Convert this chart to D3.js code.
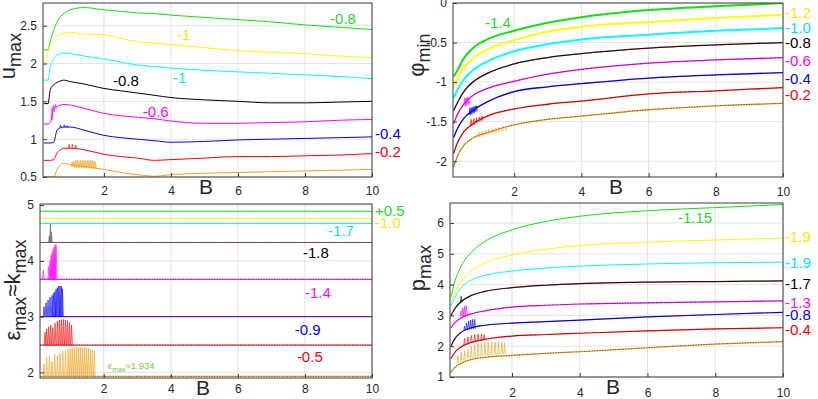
<!DOCTYPE html>
<html>
<head>
<meta charset="utf-8">
<script src="https://cdn.jsdelivr.net/npm/d3@7"></script>
<style>
  body { margin: 0; background: #fff; }
  svg { font-family: "Liberation Sans", Arial, sans-serif; }
</style>
</head>
<body>
<svg id="fig" width="818" height="399"></svg>
<script>
// ---------- (a) u_max vs B ----------
const uB       = [0.2, 0.33, 0.4, 0.5, 0.6, 0.7, 0.8, 1.0, 1.4, 2, 2.5, 3, 3.5, 4, 5, 6, 7, 8, 9, 10];
const uGreen   = [2.18, 2.18, 2.3, 2.44, 2.55, 2.62, 2.66, 2.71, 2.74, 2.71, 2.69, 2.67, 2.66, 2.64, 2.61, 2.58, 2.55, 2.51, 2.48, 2.45];
const uYellow  = [1.98, 2.15, 2.24, 2.32, 2.36, 2.38, 2.4, 2.41, 2.39, 2.38, 2.33, 2.29, 2.27, 2.25, 2.21, 2.17, 2.15, 2.13, 2.1, 2.08];
const uCyan    = [1.78, 1.78, 1.96, 2.06, 2.11, 2.13, 2.14, 2.13, 2.1, 2.06, 2.02, 1.98, 1.96, 1.94, 1.91, 1.89, 1.87, 1.85, 1.83, 1.8];
const uBlack   = [1.47, 1.47, 1.66, 1.72, 1.75, 1.77, 1.78, 1.76, 1.73, 1.67, 1.64, 1.61, 1.58, 1.55, 1.52, 1.5, 1.48, 1.48, 1.49, 1.5];
const uMagenta = [1.2, 1.2, 1.22, 1.4, 1.43, 1.45, 1.46, 1.45, 1.41, 1.34, 1.31, 1.29, 1.27, 1.24, 1.21, 1.21, 1.22, 1.23, 1.25, 1.26];
const uBlue    = [0.95, 0.95, 0.95, 0.96, 1.12, 1.15, 1.16, 1.16, 1.12, 1.05, 1.02, 1.0, 0.98, 0.96, 0.97, 0.99, 1.0, 1.01, 1.02, 1.03];
const uRed     = [0.72, 0.72, 0.72, 0.73, 0.82, 0.86, 0.88, 0.88, 0.86, 0.8, 0.77, 0.75, 0.72, 0.73, 0.75, 0.77, 0.77, 0.78, 0.79, 0.81];
const uOrange  = [0.5, 0.5, 0.5, 0.5, 0.6, 0.66, 0.68, 0.66, 0.64, 0.6, 0.56, 0.53, 0.51, 0.53, 0.55, 0.56, 0.57, 0.58, 0.59, 0.6];
// oscillating bits: [B, low, high]
const uMagentaOsc = [[0.45, 1.25, 1.42], [0.5, 1.36, 1.45], [0.55, 1.4, 1.46]];
const uBlueOsc    = [[0.7, 1.15, 1.19], [0.82, 1.16, 1.19], [0.9, 1.16, 1.18]];
const uRedOsc     = [[0.96, 0.88, 0.93], [1.06, 0.88, 0.93], [1.16, 0.87, 0.92]];
const uOrangeOsc  = [[1.05, 0.64, 0.7], [1.1, 0.63, 0.71], [1.15, 0.62, 0.72], [1.2, 0.62, 0.72], [1.25, 0.62, 0.72],
                     [1.3, 0.62, 0.72], [1.35, 0.62, 0.72], [1.4, 0.62, 0.72], [1.45, 0.62, 0.72], [1.5, 0.62, 0.72],
                     [1.55, 0.62, 0.72], [1.6, 0.61, 0.72], [1.65, 0.61, 0.72], [1.7, 0.61, 0.71], [1.75, 0.61, 0.7]];
const uLabels = [
  {t: "-0.8", c: "green", b: 8.75, v: 2.6}, {t: "-1", c: "yellow", b: 4.18, v: 2.38},
  {t: "-0.8", c: "black", b: 2.27, v: 1.78}, {t: "-1", c: "cyan", b: 4.06, v: 1.81},
  {t: "-0.6", c: "magenta", b: 3.16, v: 1.37}, {t: "-0.4", c: "blue", b: 10.09, v: 1.08},
  {t: "-0.2", c: "red", b: 10.09, v: 0.83}
];

// ---------- (b) phi_min vs B ----------
const phiB       = [0.2, 0.3, 0.5, 0.8, 1.2, 2, 3, 4, 6, 8, 10];
const phiGreen   = [-0.93, -0.86, -0.7, -0.56, -0.46, -0.35, -0.25, -0.18, -0.09, -0.04, 0];
const phiYellow  = [-1.05, -0.97, -0.82, -0.69, -0.59, -0.47, -0.36, -0.3, -0.24, -0.19, -0.15];
const phiCyan    = [-1.2, -1.11, -0.97, -0.84, -0.74, -0.61, -0.52, -0.46, -0.4, -0.35, -0.32];
const phiBlack   = [-1.36, -1.27, -1.12, -0.99, -0.89, -0.77, -0.69, -0.64, -0.57, -0.53, -0.5];
const phiMagenta = [-1.52, -1.42, -1.28, -1.16, -1.08, -0.99, -0.9, -0.84, -0.76, -0.72, -0.69];
const phiBlue    = [-1.7, -1.6, -1.46, -1.35, -1.25, -1.12, -1.06, -1.02, -0.95, -0.91, -0.88];
const phiRed     = [-1.9, -1.78, -1.63, -1.52, -1.43, -1.34, -1.28, -1.24, -1.15, -1.11, -1.07];
const phiOrange  = [-2.07, -1.95, -1.8, -1.7, -1.64, -1.54, -1.47, -1.43, -1.35, -1.3, -1.27];
const phiMagentaOsc = [[0.53, -1.3, -1.2], [0.57, -1.3, -1.2], [0.61, -1.29, -1.19], [0.65, -1.28, -1.2]];
const phiBlueOsc    = [[0.68, -1.42, -1.33], [0.72, -1.41, -1.32], [0.76, -1.4, -1.32], [0.8, -1.39, -1.31], [0.84, -1.38, -1.3], [0.88, -1.37, -1.3]];
const phiRedOsc     = [[0.72, -1.56, -1.47], [0.8, -1.54, -1.46], [0.88, -1.52, -1.45], [0.96, -1.5, -1.44], [1.04, -1.49, -1.43]];
const phiOrangeOsc  = [[0.95, -1.7, -1.63], [1.05, -1.69, -1.62], [1.15, -1.67, -1.61], [1.25, -1.66, -1.6], [1.35, -1.65, -1.59],
                       [1.45, -1.64, -1.58], [1.55, -1.63, -1.57], [1.65, -1.62, -1.56], [1.75, -1.61, -1.56]];
const phiLabels = [
  {t: "-1.4", c: "green", b: 1.13, v: -0.25}, {t: "-1.2", c: "yellow", b: 10.06, v: -0.12},
  {t: "-1.0", c: "cyan", b: 10.06, v: -0.31}, {t: "-0.8", c: "black", b: 10.06, v: -0.5},
  {t: "-0.6", c: "magenta", b: 10.06, v: -0.73}, {t: "-0.4", c: "blue", b: 10.06, v: -0.95},
  {t: "-0.2", c: "red", b: 10.06, v: -1.16}
];

// ---------- (c) eps_max ~ k_max vs B ----------
const eB = [0.1, 10];
const eGreen = 4.89, eYellow = 4.76, eCyan = 4.67, eBlack = 4.33, eMagenta = 3.67, eBlue = 3.0, eRed = 2.49, eOrange = 1.93;
const eBlackSp   = [[0.38, 4.33, 4.45], [0.41, 4.33, 4.66], [0.44, 4.33, 4.52]];
const eMagentaSp = [[0.2, 3.67, 3.83], [0.36, 3.67, 3.9], [0.4, 3.67, 4.0], [0.43, 3.67, 4.1], [0.46, 3.67, 4.15],
                    [0.49, 3.67, 4.2], [0.52, 3.67, 4.25], [0.55, 3.67, 4.29], [0.58, 3.67, 4.29]];
const eBlueSp    = [[0.22, 3.0, 3.18], [0.28, 3.0, 3.25], [0.34, 3.0, 3.3], [0.4, 3.0, 3.35], [0.46, 3.0, 3.38],
                    [0.5, 3.0, 3.42], [0.54, 3.0, 3.45], [0.58, 3.0, 3.5], [0.62, 3.0, 3.52], [0.66, 3.0, 3.55],
                    [0.7, 3.0, 3.55], [0.74, 3.0, 3.54], [0.77, 3.0, 3.5]];
const eRedSp     = [[0.25, 2.49, 2.72], [0.3, 2.49, 2.78], [0.36, 2.49, 2.82], [0.42, 2.49, 2.85], [0.48, 2.49, 2.8],
                    [0.55, 2.49, 2.88], [0.62, 2.49, 2.92], [0.68, 2.49, 2.94], [0.74, 2.49, 2.95], [0.8, 2.49, 2.95],
                    [0.86, 2.49, 2.94], [0.92, 2.49, 2.93], [0.98, 2.49, 2.9], [1.04, 2.49, 2.85]];
const eOrangeSp  = [[0.22, 1.93, 2.15], [0.3, 1.93, 2.28], [0.38, 1.93, 2.3], [0.46, 1.93, 2.2], [0.54, 1.93, 2.32],
                    [0.62, 1.93, 2.3], [0.7, 1.93, 2.35], [0.78, 1.93, 2.38], [0.86, 1.93, 2.4], [0.94, 1.93, 2.42],
                    [1.0, 1.93, 2.43], [1.06, 1.93, 2.44], [1.12, 1.93, 2.44], [1.18, 1.93, 2.45], [1.24, 1.93, 2.45],
                    [1.3, 1.93, 2.45], [1.36, 1.93, 2.45], [1.42, 1.93, 2.44], [1.48, 1.93, 2.45], [1.54, 1.93, 2.44],
                    [1.6, 1.93, 2.42], [1.66, 1.93, 2.4], [1.72, 1.93, 2.38]];
const eLabels = [
  {t: "+0.5", c: "green", b: 10.09, v: 4.9}, {t: "-1.0", c: "yellow", b: 10.09, v: 4.69},
  {t: "-1.7", c: "cyan", b: 8.69, v: 4.55}, {t: "-1.8", c: "black", b: 7.94, v: 4.14},
  {t: "-1.4", c: "magenta", b: 8.0, v: 3.44}, {t: "-0.9", c: "blue", b: 7.7, v: 2.76},
  {t: "-0.5", c: "red", b: 7.76, v: 2.28}
];

// ---------- (d) p_max vs B ----------
const pB       = [0.2, 0.3, 0.5, 0.8, 1.2, 2, 3, 4, 6, 8, 10];
const pGreen   = [3.6, 4.05, 4.6, 5.05, 5.4, 5.78, 6.05, 6.22, 6.4, 6.5, 6.6];
const pYellow  = [3.4, 3.7, 4.1, 4.45, 4.7, 4.96, 5.15, 5.27, 5.38, 5.45, 5.51];
const pCyan    = [3.3, 3.55, 3.9, 4.15, 4.3, 4.44, 4.54, 4.6, 4.67, 4.71, 4.73];
const pBlack   = [3.0, 3.2, 3.45, 3.65, 3.78, 3.9, 3.98, 4.03, 4.08, 4.1, 4.12];
const pMagenta = [2.6, 2.75, 2.92, 3.05, 3.15, 3.27, 3.33, 3.37, 3.41, 3.44, 3.47];
const pBlue    = [2.0, 2.22, 2.45, 2.6, 2.68, 2.75, 2.8, 2.85, 2.95, 3.03, 3.1];
const pRed     = [1.6, 1.78, 1.98, 2.12, 2.22, 2.33, 2.38, 2.42, 2.5, 2.56, 2.6];
const pOrange  = [1.15, 1.3, 1.45, 1.57, 1.64, 1.7, 1.77, 1.82, 1.95, 2.07, 2.15];
const pBlackSp   = [[0.5, 3.42, 3.62]];
const pMagentaSp = [[0.5, 2.97, 3.15], [0.55, 2.98, 3.25], [0.6, 3.0, 3.3], [0.65, 3.0, 3.32]];
const pBlueSp    = [[0.6, 2.5, 2.65], [0.66, 2.52, 2.75], [0.72, 2.53, 2.82], [0.78, 2.55, 2.85], [0.84, 2.56, 2.87], [0.9, 2.57, 2.87]];
const pRedSp     = [[0.6, 2.05, 2.25], [0.7, 2.1, 2.3], [0.8, 2.12, 2.35], [0.9, 2.15, 2.38], [1.0, 2.17, 2.4], [1.1, 2.18, 2.4], [1.18, 2.2, 2.38]];
const pOrangeSp  = [[0.4, 1.45, 1.7], [0.5, 1.5, 1.8], [0.6, 1.55, 1.85], [0.7, 1.6, 1.9], [0.8, 1.62, 2.0], [0.9, 1.65, 2.05],
                    [1.0, 1.67, 2.08], [1.1, 1.68, 2.1], [1.2, 1.7, 2.12], [1.3, 1.7, 2.13], [1.4, 1.71, 2.14],
                    [1.5, 1.72, 2.14], [1.6, 1.73, 2.15], [1.7, 1.74, 2.13], [1.78, 1.74, 2.1]];
const pLabels = [
  {t: "-1.15", c: "green", b: 6.9, v: 6.16}, {t: "-1.9", c: "yellow", b: 10.06, v: 5.55},
  {t: "-1.9", c: "cyan", b: 10.06, v: 4.73}, {t: "-1.7", c: "black", b: 10.06, v: 4.02},
  {t: "-1.3", c: "magenta", b: 10.06, v: 3.42}, {t: "-0.8", c: "blue", b: 10.06, v: 3.04},
  {t: "-0.4", c: "red", b: 10.06, v: 2.53}
];

const xTicks = [2, 4, 6, 8, 10];

// line colours and label colours
const LINE = {green: "#11e011", yellow: "#ffff00", cyan: "#00ffff", black: "#000000",
              magenta: "#ff00ff", blue: "#0000ff", red: "#ff0000", orange: "#eaa31c"};
const TEXT = {green: "#1fd81f", yellow: "#f7e600", cyan: "#00e6f2", black: "#000000",
              magenta: "#ff00ff", blue: "#0000ff", red: "#ff0000"};
const DARK = "#1a1a1a";
const AXIS = "#3a3a3a";
const GRID = "#e3e3e3";
const FONT = "'Liberation Sans', Arial, sans-serif";

const svg = d3.select("#fig");

function yLabel(cx, cy, parts) {
  const t = svg.append("text")
    .attr("transform", `translate(${cx},${cy}) rotate(-90)`)
    .attr("text-anchor", "middle")
    .attr("fill", "#262626")
    .style("font-size", "22px");
  let prevSub = false;
  parts.forEach(p => {
    const s = !!p.sub;
    t.append("tspan").text(p.t)
      .attr("dy", s && !prevSub ? 6 : (!s && prevSub ? -6 : 0))
      .style("font-size", s ? "18px" : null);
    prevSub = s;
  });
}

function drawPanel(p) {
  const [L, T, R, Bt] = p.box;
  const x = d3.scaleLinear().domain(p.xDomain).range([L, R]);
  const y = d3.scaleLinear().domain(p.yDomain).range([Bt, T]);
  const g = svg.append("g");

  svg.append("clipPath").attr("id", "clip-" + p.id)
    .append("rect").attr("x", L).attr("y", T).attr("width", R - L).attr("height", Bt - T);

  // grid
  g.append("g").selectAll("line").data(xTicks).join("line")
    .attr("x1", d => x(d)).attr("x2", d => x(d)).attr("y1", T).attr("y2", Bt)
    .attr("stroke", GRID);
  g.append("g").selectAll("line").data(p.yTicks).join("line")
    .attr("x1", L).attr("x2", R).attr("y1", d => y(d)).attr("y2", d => y(d))
    .attr("stroke", GRID);

  const plot = g.append("g").attr("clip-path", `url(#clip-${p.id})`);
  const ln = d3.line().x(d => x(d[0])).y(d => y(d[1])).curve(d3.curveMonotoneX);
  const sp = d3.line().x(d => x(d[0])).y(d => y(d[1]));
  const H = 0.025;

  p.series.forEach(s => {
    const pts = s.xs.map((b, i) => [b, s.v[i]]);
    plot.append("path").attr("d", ln(pts))
      .attr("fill", "none").attr("stroke", s.c).attr("stroke-width", s.w || 1);
    if (s.dot) {
      plot.append("path").attr("d", ln(pts))
        .attr("fill", "none").attr("stroke", s.dot).attr("stroke-width", 0.9)
        .attr("stroke-dasharray", "1 1.6").attr("opacity", 0.75);
    }
    if (s.osc) {
      plot.append("g").selectAll("path").data(s.osc).join("path")
        .attr("d", d => sp([[d[0] - H, d[1]], [d[0], d[2]], [d[0] + H, d[1]]]))
        .attr("fill", p.fillOsc ? s.c : "none").attr("fill-opacity", 0.15)
        .attr("stroke", s.c).attr("stroke-width", 0.75).attr("opacity", 0.85);
    }
  });

  // axes (ticks pointing inwards, MATLAB style)
  const ax = g.append("g").attr("transform", `translate(0,${Bt})`)
    .call(d3.axisBottom(x).tickValues(xTicks).tickSize(-4).tickPadding(p.xPad).tickFormat(d => String(d)));
  const ay = g.append("g").attr("transform", `translate(${L},0)`)
    .call(d3.axisLeft(y).tickValues(p.yTicks).tickSize(-4).tickPadding(6).tickFormat(d => String(d)));
  [ax, ay].forEach(a => {
    a.select(".domain").remove();
    a.attr("font-size", 12).attr("font-family", FONT);
    a.selectAll("line").attr("stroke", AXIS);
    a.selectAll("text").attr("fill", "#262626");
  });

  g.append("rect").attr("x", L).attr("y", T).attr("width", R - L).attr("height", Bt - T)
    .attr("fill", "none").attr("stroke", AXIS).attr("stroke-width", 1);

  // annotations
  g.append("g").selectAll("text").data(p.labels).join("text")
    .attr("x", d => x(d.b)).attr("y", d => y(d.v)).attr("dy", "0.36em")
    .attr("fill", d => TEXT[d.c]).style("font-size", "15px").text(d => d.t);

  // B label
  g.append("text").attr("x", L + 163).attr("y", Bt + 17).attr("text-anchor", "middle")
    .attr("fill", "#262626").style("font-size", "21px").text("B");

  return {x, y, g};
}

const ser = (xs, v, c, extra) => Object.assign({xs, v, c: LINE[c]}, extra || {});

// (a)
drawPanel({
  id: "a", box: [43, 3, 372, 177], xDomain: [0.18, 10], yDomain: [0.5, 2.8],
  yTicks: [0.5, 1, 1.5, 2, 2.5], xPad: 9, labels: uLabels,
  series: [
    ser(uB, uGreen, "green"), ser(uB, uYellow, "yellow"), ser(uB, uCyan, "cyan"),
    ser(uB, uBlack, "black"),
    ser(uB, uMagenta, "magenta", {osc: uMagentaOsc}),
    ser(uB, uBlue, "blue", {osc: uBlueOsc}),
    ser(uB, uRed, "red", {osc: uRedOsc}),
    ser(uB, uOrange, "orange", {osc: uOrangeOsc})
  ]
});
yLabel(15, 56, [{t: "u"}, {t: "max", sub: true}]);

// (b)
drawPanel({
  id: "b", box: [453, 3, 783, 177], xDomain: [0.18, 10], yDomain: [-2.2, 0],
  yTicks: [-2, -1.5, -1, -0.5, 0], xPad: 10, labels: phiLabels,
  series: [
    ser(phiB, phiGreen, "green", {w: 2}), ser(phiB, phiYellow, "yellow", {w: 2}),
    ser(phiB, phiCyan, "cyan", {w: 2}),
    ser(phiB, phiBlack, "black", {w: 1.3, dot: "#ff2020"}),
    ser(phiB, phiMagenta, "magenta", {w: 1.3, dot: DARK, osc: phiMagentaOsc}),
    ser(phiB, phiBlue, "blue", {w: 1.3, dot: DARK, osc: phiBlueOsc}),
    ser(phiB, phiRed, "red", {w: 1.3, dot: DARK, osc: phiRedOsc}),
    ser(phiB, phiOrange, "orange", {w: 1.3, dot: DARK, osc: phiOrangeOsc})
  ]
});
yLabel(424, 55, [{t: "φ"}, {t: "min", sub: true}]);

// (c)
const pc = drawPanel({
  id: "c", box: [40, 204, 372, 378], xDomain: [0.1, 10], yDomain: [1.9, 5.02],
  yTicks: [2, 3, 4, 5], xPad: 6, labels: eLabels, fillOsc: true,
  series: [
    ser(eB, [eGreen, eGreen], "green"), ser(eB, [eYellow, eYellow], "yellow"),
    ser(eB, [eCyan, eCyan], "cyan"),
    Object.assign(ser(eB, [eBlack, eBlack], "black", {osc: eBlackSp, dot: "#ff2020"}), {c: "#555555"}),
    ser(eB, [eMagenta, eMagenta], "magenta", {dot: DARK, osc: eMagentaSp}),
    ser(eB, [eBlue, eBlue], "blue", {dot: "#ff2020", osc: eBlueSp}),
    ser(eB, [eRed, eRed], "red", {dot: DARK, osc: eRedSp}),
    ser(eB, [eOrange, eOrange], "orange", {dot: DARK, osc: eOrangeSp})
  ]
});
// epsilon note
const note = pc.g.append("text").attr("x", pc.x(2.13)).attr("y", pc.y(2.12)).attr("dy", "0.36em")
  .attr("fill", "#6fcf3a").style("font-size", "9.5px");
note.append("tspan").text("ε");
note.append("tspan").text("max").attr("dy", 3).style("font-size", "7px");
note.append("tspan").text("≈1.934").attr("dy", -3);
yLabel(20, 290, [{t: "ε"}, {t: "max", sub: true}, {t: "≈"}, {t: "k"}, {t: "max", sub: true}]);

// (d)
drawPanel({
  id: "d", box: [450, 203, 783, 377], xDomain: [0.17, 10], yDomain: [1, 6.65],
  yTicks: [1, 2, 3, 4, 5, 6], xPad: 11, labels: pLabels,
  series: [
    ser(pB, pGreen, "green"), ser(pB, pYellow, "yellow"), ser(pB, pCyan, "cyan"),
    ser(pB, pBlack, "black", {w: 1.2, dot: "#ff2020", osc: pBlackSp}),
    ser(pB, pMagenta, "magenta", {w: 1.2, dot: DARK, osc: pMagentaSp}),
    ser(pB, pBlue, "blue", {w: 1.2, dot: DARK, osc: pBlueSp}),
    ser(pB, pRed, "red", {w: 1.2, dot: DARK, osc: pRedSp}),
    ser(pB, pOrange, "orange", {w: 1.2, dot: DARK, osc: pOrangeSp})
  ]
});
yLabel(425, 268, [{t: "p"}, {t: "max", sub: true}]);
</script>
</body>
</html>
